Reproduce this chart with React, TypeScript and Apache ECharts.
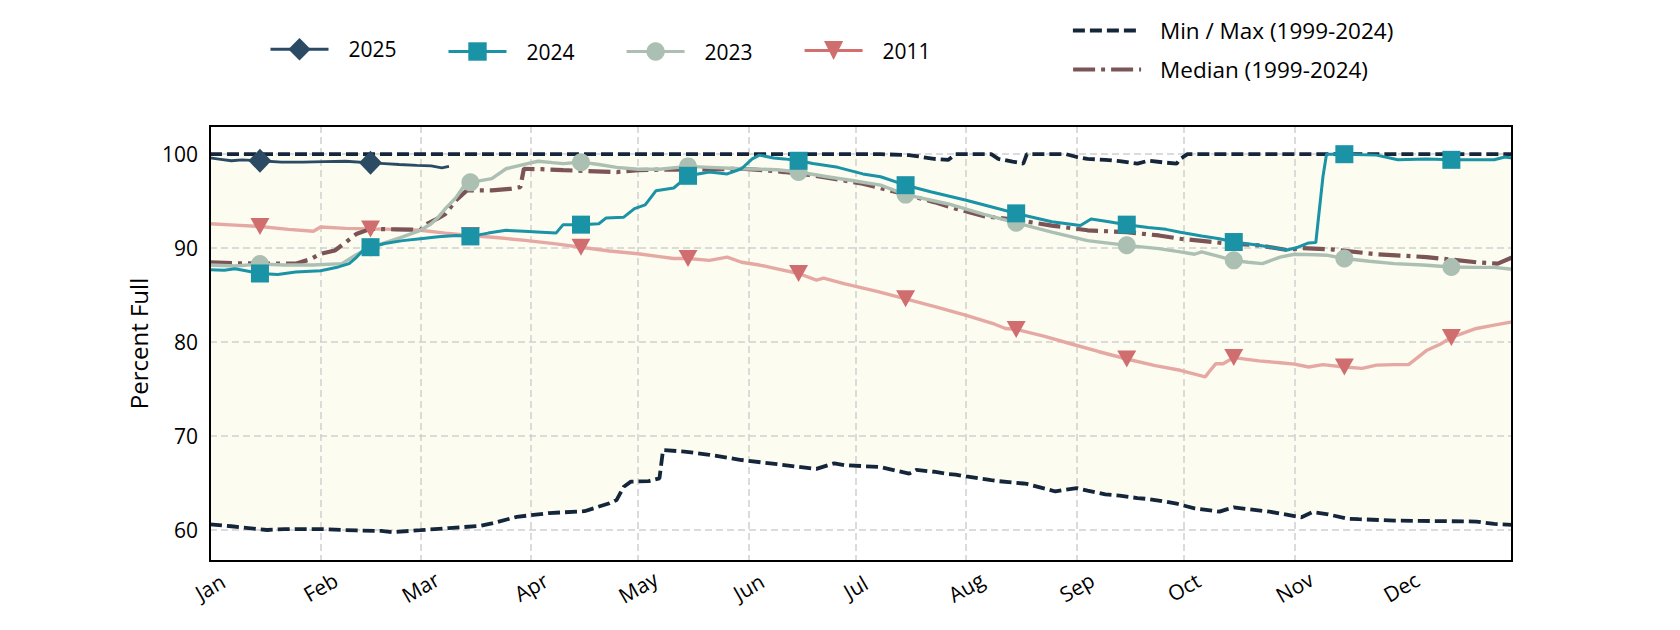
import React, { useEffect, useRef } from "react";
import * as echarts from "echarts";

// ---------- data (day of year, 0 = Jan 1) ----------
const monthStarts = [0, 31, 59, 90, 120, 151, 181, 212, 243, 273, 304, 334];
const monthLabels = ["Jan", "Feb", "Mar", "Apr", "May", "Jun", "Jul", "Aug", "Sep", "Oct", "Nov", "Dec"];
const markerDays = [14, 45, 73, 104, 134, 165, 195, 226, 257, 287, 318, 348];

const bandDays = [0, 6, 16, 21, 31, 41, 48, 51, 59, 67, 76, 79, 86, 95, 105, 112, 114, 116, 118, 123, 126, 127, 133, 140, 149, 159, 170, 175, 178, 188, 196, 198, 203, 207, 209, 212, 219, 221, 225, 228, 229, 237, 240, 243, 246, 251, 255, 260, 263, 268, 271, 272, 274, 276, 283, 285, 287, 297, 306, 309, 313, 319, 322, 332, 355, 360, 365];
const minValues = [60.6, 60.4, 60.0, 60.1, 60.1, 59.95, 59.9, 59.77, 59.98, 60.2, 60.45, 60.7, 61.4, 61.8, 62.0, 62.85, 63.2, 64.6, 65.15, 65.2, 65.5, 68.5, 68.35, 68.0, 67.45, 67.0, 66.5, 67.1, 66.9, 66.7, 66.0, 66.4, 66.2, 65.95, 65.9, 65.7, 65.3, 65.2, 65.05, 64.95, 64.9, 64.1, 64.3, 64.45, 64.2, 63.8, 63.65, 63.4, 63.3, 63.0, 62.8, 62.7, 62.5, 62.3, 61.95, 62.2, 62.4, 61.95, 61.35, 61.9, 61.7, 61.2, 61.15, 61.0, 60.9, 60.65, 60.55];
const maxValues = [100, 100, 100, 100, 100, 100, 100, 100, 100, 100, 100, 100, 100, 100, 100, 100, 100, 100, 100, 100, 100, 100, 100, 100, 100, 100, 100, 100, 100, 100, 99.9, 99.8, 99.5, 99.4, 100, 100, 100, 99.5, 99.2, 99.0, 100, 100, 100, 99.7, 99.5, 99.4, 99.25, 99.0, 99.3, 99.1, 99.0, 99.5, 100, 100, 100, 100, 100, 100, 100, 100, 100, 100, 100, 100, 100, 100, 100];

const days2025 = [0, 3, 6, 9, 14, 20, 26, 32, 38, 45, 49, 53, 58, 62, 65, 67];
const values2025 = [99.6, 99.45, 99.3, 99.4, 99.3, 99.15, 99.15, 99.2, 99.25, 99.08, 99.0, 98.9, 98.8, 98.75, 98.55, 98.7];

const days2024 = [0, 4, 7, 10, 14, 19, 24, 31, 36, 39, 41, 43, 45, 49, 54, 59, 64, 69, 73, 78, 83, 88, 93, 97, 99, 104, 109, 111, 116, 119, 122, 125, 130, 134, 140, 145, 149, 152, 154, 158, 161, 165, 169, 176, 183, 188, 195, 202, 212, 220, 226, 236, 244, 247, 252, 257, 263, 268, 272, 278, 283, 287, 294, 302, 305, 308, 310, 312, 313, 318, 327, 333, 341, 348, 355, 360, 363, 365];
const values2024 = [87.7, 87.65, 87.8, 87.6, 87.3, 87.2, 87.45, 87.6, 88.0, 88.35, 89.0, 89.8, 90.1, 90.5, 90.8, 91.0, 91.2, 91.35, 91.25, 91.6, 91.9, 91.8, 91.7, 91.6, 92.5, 92.5, 92.6, 93.2, 93.3, 94.2, 94.6, 96.1, 96.4, 97.7, 98.1, 97.9, 98.45, 99.5, 99.9, 99.6, 99.5, 99.3, 99.0, 98.6, 97.9, 97.6, 96.7, 96.0, 95.1, 94.3, 93.7, 92.8, 92.4, 93.1, 92.8, 92.5, 92.2, 92.0, 91.7, 91.3, 91.0, 90.65, 90.3, 89.8, 90.1, 90.55, 90.6, 97.6, 100.0, 100.0, 99.9, 99.4, 99.5, 99.4, 99.4, 99.4, 99.7, 99.6];

const days2023 = [0, 7, 14, 21, 29, 37, 41, 45, 50, 54, 59, 62, 64, 66, 69, 71, 73, 79, 83, 89, 92, 96, 99, 104, 109, 114, 120, 126, 134, 140, 149, 159, 165, 173, 180, 188, 195, 207, 217, 226, 236, 246, 257, 266, 272, 276, 278, 282, 287, 291, 295, 300, 304, 310, 313, 318, 325, 332, 340, 348, 355, 360, 365];
const values2023 = [88.2, 88.1, 88.3, 88.2, 88.2, 88.35, 89.3, 90.1, 90.7, 91.2, 91.9, 92.6, 93.3, 94.2, 95.4, 96.5, 97.0, 97.4, 98.45, 99.0, 99.25, 99.1, 99.0, 99.15, 98.9, 98.6, 98.4, 98.4, 98.7, 98.6, 98.45, 98.35, 98.1, 97.6, 97.2, 96.7, 95.7, 94.7, 93.6, 92.7, 91.7, 90.8, 90.3, 89.95, 89.6, 89.35, 89.6, 89.2, 88.7, 88.5, 88.35, 89.05, 89.35, 89.3, 89.25, 88.9, 88.6, 88.35, 88.2, 88.0, 87.95, 87.95, 87.75];

const daysMedian = [0, 7, 14, 24, 28, 31, 35, 38, 41, 45, 52, 59, 61, 64, 66, 69, 72, 79, 84, 87, 88, 93, 99, 106, 114, 120, 126, 135, 149, 155, 161, 169, 176, 183, 192, 203, 210, 217, 227, 236, 246, 257, 266, 272, 285, 294, 302, 306, 315, 327, 341, 355, 361, 365];
const valuesMedian = [88.5, 88.4, 88.35, 88.35, 88.8, 89.4, 89.75, 90.6, 91.5, 92.05, 92.0, 91.95, 92.6, 93.2, 93.65, 95.1, 96.15, 96.15, 96.3, 96.5, 98.45, 98.4, 98.3, 98.2, 98.1, 98.3, 98.35, 98.35, 98.45, 98.3, 98.1, 97.75, 97.3, 96.85, 96.0, 94.9, 94.1, 93.4, 92.95, 92.4, 91.9, 91.7, 91.35, 91.0, 90.5, 90.3, 89.8, 90.0, 89.85, 89.35, 89.05, 88.5, 88.35, 89.0];

const days2011 = [0, 7, 14, 22, 29, 31, 38, 45, 52, 59, 66, 73, 81, 89, 97, 104, 112, 120, 126, 130, 134, 140, 145, 149, 154, 159, 165, 170, 172, 178, 187, 195, 204, 212, 220, 223, 226, 234, 241, 249, 257, 265, 272, 279, 280, 282, 284, 287, 294, 300, 304, 308, 312, 318, 323, 327, 332, 336, 337, 341, 345, 348, 355, 360, 365];
const values2011 = [92.6, 92.45, 92.3, 92.0, 91.8, 92.25, 92.1, 92.05, 92.0, 91.9, 91.6, 91.35, 91.1, 90.8, 90.45, 90.1, 89.7, 89.4, 89.1, 88.9, 88.9, 88.7, 89.05, 88.5, 88.2, 87.8, 87.3, 86.6, 86.8, 86.2, 85.4, 84.6, 83.7, 82.85, 81.9, 81.45, 81.35, 80.6, 79.85, 79.0, 78.2, 77.5, 77.0, 76.3, 76.8, 77.7, 77.7, 78.35, 78.0, 77.8, 77.65, 77.35, 77.6, 77.35, 77.2, 77.55, 77.6, 77.6, 77.9, 79.1, 79.8, 80.5, 81.45, 81.8, 82.15];

// ---------- styling ----------
const FONT = '"Open Sans", Lato, "DejaVu Sans", sans-serif';
const NAME_MINMAX = "Min / Max (1999-2024)";
const NAME_MEDIAN = "Median (1999-2024)";

function pairs(days: number[], vals: number[]) {
  return days.map((d, i) => [d, vals[i]]);
}
function withMarkers(days: number[], vals: number[]) {
  return days.map((d, i) =>
    markerDays.indexOf(d) >= 0 ? [d, vals[i]] : { value: [d, vals[i]], symbol: "none" }
  );
}

export default function App() {
  const ref = useRef<HTMLDivElement>(null);
  useEffect(() => {
    if (!ref.current) return;
    const chart = echarts.init(ref.current, null, { renderer: "svg" });

    const yearSeries = (name: string, days: number[], vals: number[], symbol: string, size: any, color: string, lineColor: string, width: number, rotate = 0) => ({
      name,
      type: "line",
      data: withMarkers(days, vals),
      showSymbol: true,
      showAllSymbol: true,
      symbol,
      symbolSize: size,
      symbolRotate: rotate,
      lineStyle: { color: lineColor, width },
      itemStyle: { color, opacity: 1 },
      emphasis: { disabled: true },
      silent: true,
      z: 3,
    });

    const legendText = { fontSize: 21, color: "#000", fontFamily: FONT, padding: [0, 0, 0, 15] };
    const rightText = { fontSize: 22.5, color: "#000", fontFamily: FONT, padding: [0, 0, 0, 14] };
    const legendBase = { orient: "horizontal", padding: 0, itemWidth: 58, textStyle: legendText, selectedMode: false };

    const option: any = {
      animation: false,
      backgroundColor: "#ffffff",
      grid: { left: 210, right: 168, top: 126, bottom: 69, show: true, borderColor: "#000", borderWidth: 2, z: 10 },
      legend: [
        { ...legendBase, data: ["2025"], left: 269, top: 38, itemHeight: 28, lineStyle: { width: 3 } },
        { ...legendBase, data: ["2024"], left: 447, top: 41, itemHeight: 23, lineStyle: { width: 3 } },
        { ...legendBase, data: ["2023"], left: 625, top: 41, itemHeight: 23, lineStyle: { width: 3.2 } },
        { ...legendBase, data: [{ name: "2011", lineStyle: { color: "#d3706f" } }], left: 803, top: 40, itemHeight: 24, lineStyle: { width: 3.2 } },
        { ...legendBase, itemWidth: 68, data: [{ name: NAME_MINMAX, itemStyle: { opacity: 0 } }], left: 1071, top: 19, itemHeight: 24, lineStyle: { width: 3.8 }, textStyle: rightText },
        { ...legendBase, itemWidth: 68, data: [{ name: NAME_MEDIAN, itemStyle: { opacity: 0 } }], left: 1071, top: 58, itemHeight: 24, lineStyle: { width: 4.2 }, textStyle: rightText },
      ],
      xAxis: {
        type: "value",
        min: 0,
        max: 365,
        z: 1,
        axisLine: { show: false },
        axisTick: { show: false, customValues: monthStarts },
        axisLabel: {
          customValues: monthStarts,
          formatter: (v: number) => {
            const i = monthStarts.indexOf(Math.round(v));
            return i >= 0 ? monthLabels[i] : "";
          },
          rotate: 30,
          align: "center",
          verticalAlign: "middle",
          margin: 26,
          fontSize: 21,
          color: "#000",
          fontFamily: FONT,
        },
        splitLine: { show: true, showMinLine: false, showMaxLine: false, lineStyle: { color: "#d0d0d0", type: [7, 4], width: 1.5 } },
      },
      yAxis: {
        type: "value",
        min: 56.7,
        max: 103,
        splitNumber: 5,
        z: 1,
        axisLine: { show: false },
        axisTick: { show: false },
        axisLabel: { fontSize: 21, color: "#000", margin: 12, fontFamily: FONT, showMinLabel: false, showMaxLabel: false },
        splitLine: { show: true, showMinLine: false, showMaxLine: false, lineStyle: { color: "#d0d0d0", type: [7, 4], width: 1.5 } },
        name: "Percent Full",
        nameLocation: "middle",
        nameGap: 60,
        nameRotate: 90,
        nameTextStyle: { fontSize: 24, color: "#000", fontFamily: FONT },
      },
      series: [
        {
          name: "band",
          type: "custom",
          data: [[0, 80]],
          encode: { x: 0, y: 1 },
          clip: true,
          silent: true,
          z: 0,
          renderItem: (params: any, api: any) => {
            const pts: number[][] = [];
            for (let i = 0; i < bandDays.length; i++) pts.push(api.coord([bandDays[i], maxValues[i]]));
            for (let i = bandDays.length - 1; i >= 0; i--) pts.push(api.coord([bandDays[i], minValues[i]]));
            return { type: "polygon", shape: { points: pts }, style: { fill: "#fcfcf1", stroke: "none" }, silent: true };
          },
        },
        {
          name: NAME_MINMAX,
          type: "line",
          data: pairs(bandDays, minValues),
          symbol: "none",
          lineStyle: { color: "#15263a", width: 3.8, type: [12, 5] },
          itemStyle: { color: "#15263a" },
          silent: true,
          z: 2,
        },
        {
          name: NAME_MINMAX,
          type: "line",
          data: pairs(bandDays, maxValues),
          symbol: "none",
          lineStyle: { color: "#15263a", width: 3.8, type: [12, 5] },
          itemStyle: { color: "#15263a" },
          silent: true,
          z: 2,
        },
        yearSeries("2011", days2011, values2011, "triangle", [19, 17], "#d06e6f", "#e6a8a3", 3.4, 180),
        {
          name: NAME_MEDIAN,
          type: "line",
          data: pairs(daysMedian, valuesMedian),
          symbol: "none",
          lineStyle: { color: "#7b5458", width: 4.2, type: [22, 6, 4, 6] },
          itemStyle: { color: "#7b5458" },
          silent: true,
          z: 3,
        },
        yearSeries("2023", days2023, values2023, "circle", 18, "#abbfb2", "#abbfb2", 3.4),
        yearSeries("2024", days2024, values2024, "rect", 18, "#1993a5", "#1993a5", 3),
        yearSeries("2025", days2025, values2025, "diamond", [23, 24], "#2b4b64", "#2b4b64", 2.8),
      ],
    };
    chart.setOption(option);
    return () => chart.dispose();
  }, []);

  return <div ref={ref} style={{ position: "fixed", left: 0, top: 0, width: 1680, height: 630 }} />;
}
